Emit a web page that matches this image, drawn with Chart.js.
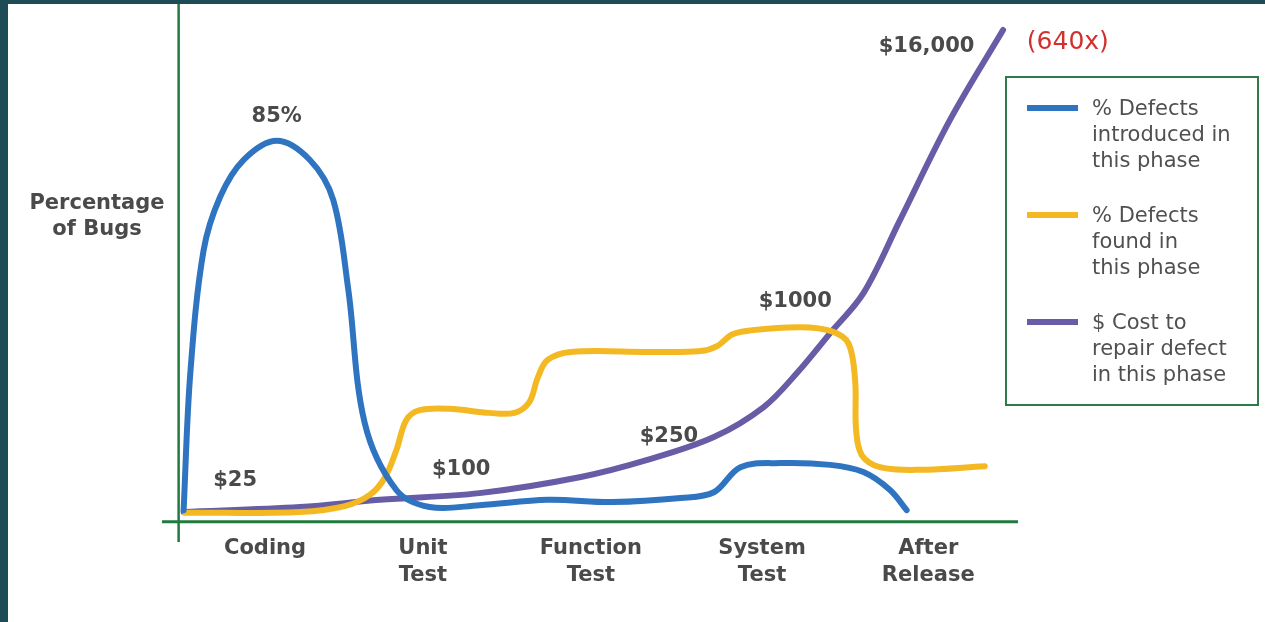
<!DOCTYPE html>
<html>
<head>
<meta charset="utf-8">
<title>Cost of defects by phase</title>
<script src="https://cdn.jsdelivr.net/npm/chart.js@4.4.1/dist/chart.umd.min.js"></script>
<style>
  html, body { margin: 0; padding: 0; width: 1265px; height: 622px; overflow: hidden; background: #1d4b56; }
  #panel { position: absolute; left: 8px; top: 4px; width: 1257px; height: 618px; background: #fff; }
  #chart { position: absolute; left: 0; top: 0; }
  #legend {
    position: absolute; left: 1005px; top: 76px; width: 254px; height: 330px;
    box-sizing: border-box; border: 2px solid #2f7a4a; padding: 17px 0 0 20px;
    font-family: "DejaVu Sans", sans-serif; font-size: 21px; color: #505050;
  }
  .item { display: flex; margin-bottom: 29px; }
  .swatch { width: 51px; height: 6px; margin: 10px 14px 0 0; flex: none; }
  .text { line-height: 26px; white-space: nowrap; }
</style>
</head>
<body>
<div id="panel"></div>
<canvas id="chart" width="1265" height="622"></canvas>
<div id="legend"></div>
<script>
// phases on the x axis, each label split into lines, and where each sits on the x scale
const categories = [['Coding'], ['Unit', 'Test'], ['Function', 'Test'], ['System', 'Test'], ['After', 'Release']];
const categoryAt = [0, 0.95, 1.96, 2.99, 3.99];

// % defects introduced in this phase
const introducedX = [-0.49, -0.45, -0.37, -0.27, -0.13, 0.07, 0.27, 0.41, 0.50, 0.60, 0.79, 0.99, 1.29, 1.70, 2.09, 2.50, 2.70, 2.86, 3.10, 3.40, 3.60, 3.76, 3.86];
const introducedY = [2.6, 33, 60.5, 72.5, 80.7, 85, 80.7, 71.8, 52, 22, 7.1, 3.3, 3.7, 4.9, 4.4, 5.3, 6.6, 12.2, 13.1, 12.7, 11.1, 7.1, 2.6];

// % defects found in this phase
const foundX = [-0.48, 0.21, 0.48, 0.63, 0.72, 0.79, 0.85, 0.93, 1.11, 1.35, 1.50, 1.59, 1.64, 1.70, 1.84, 2.32, 2.62, 2.72, 2.81, 2.92, 3.22, 3.41, 3.51, 3.55, 3.556, 3.59, 3.70, 3.94, 4.33];
const foundY = [2.0, 2.2, 3.5, 6.0, 9.8, 16.0, 22.7, 24.9, 25.2, 24.3, 24.3, 26.7, 32.1, 36.1, 37.9, 37.9, 38.1, 39.2, 41.8, 42.7, 43.4, 42.5, 39.8, 31.6, 20.5, 14.9, 12.2, 11.6, 12.4];

// $ cost to repair (relative height, not to scale)
const costX = [-0.49, 0.21, 0.69, 1.29, 1.90, 2.30, 2.70, 3.00, 3.20, 3.40, 3.60, 3.82, 4.12, 4.44];
const costY = [2.2, 3.3, 4.9, 6.4, 10.0, 13.8, 18.9, 25.6, 33.2, 42.1, 51.0, 67.3, 89.6, 109.7];

const seriesLabels = [
  ['% Defects', 'introduced in', 'this phase'],
  ['% Defects', 'found in', 'this phase'],
  ['$ Cost to', 'repair defect', 'in this phase']
];
const seriesColors = ['#2e74c0', '#f4b823', '#675ca6'];

// callouts: text, x, y (data units)
const noteText = ['85%', '$25', '$100', '$250', '$1000', '$16,000'];
const noteX = [0.07, -0.18, 1.18, 2.43, 3.19, 3.98];
const noteY = [90.3, 9.3, 11.6, 19.1, 49.2, 106.1];

const axisColor = '#237a3e';
const textColor = '#4a4a4a';
const yAxisAt = -0.52;

function pts(xs, ys) {
  return xs.map((v, i) => ({ x: v, y: ys[i] }));
}

const overlay = {
  id: 'overlay',
  beforeDatasetsDraw(chart) {
    const { ctx, chartArea, scales: { x, y } } = chart;
    const ax = x.getPixelForValue(yAxisAt);
    const ay = y.getPixelForValue(0);
    ctx.save();
    ctx.strokeStyle = axisColor;
    ctx.lineWidth = 2.5;
    ctx.beginPath();
    ctx.moveTo(ax, chartArea.top);
    ctx.lineTo(ax, chartArea.bottom);
    ctx.stroke();
    ctx.lineWidth = 3;
    ctx.beginPath();
    ctx.moveTo(chartArea.left, ay);
    ctx.lineTo(chartArea.right, ay);
    ctx.stroke();
    ctx.restore();
  },
  afterDraw(chart) {
    const { ctx, chartArea, scales: { x, y } } = chart;
    const ay = y.getPixelForValue(0);
    ctx.save();
    ctx.textAlign = 'center';
    ctx.textBaseline = 'middle';
    ctx.fillStyle = textColor;
    ctx.font = 'bold 21px "DejaVu Sans", sans-serif';

    // phase names under the axis
    categories.forEach((lines, i) => {
      lines.forEach((t, j) => ctx.fillText(t, x.getPixelForValue(categoryAt[i]), ay + 27 + j * 27));
    });

    // y axis title
    ctx.fillText('Percentage', chartArea.left - 65, 204);
    ctx.fillText('of Bugs', chartArea.left - 65, 230);

    // callouts
    noteText.forEach((t, i) => {
      ctx.fillText(t, x.getPixelForValue(noteX[i]), y.getPixelForValue(noteY[i]));
    });

    ctx.fillStyle = '#d1302c';
    ctx.font = '25px "DejaVu Sans", sans-serif';
    ctx.fillText('(640x)', x.getPixelForValue(4.83), y.getPixelForValue(107));
    ctx.restore();
  }
};

const datasets = [pts(introducedX, introducedY), pts(foundX, foundY), pts(costX, costY)].map((d, i) => ({
  label: seriesLabels[i].join(' '),
  data: d,
  borderColor: seriesColors[i],
  borderWidth: 6,
  pointRadius: 0,
  fill: false,
  tension: 0.35,
  borderCapStyle: 'round',
  borderJoinStyle: 'round'
}));

new Chart(document.getElementById('chart'), {
  type: 'line',
  data: { datasets: datasets },
  options: {
    responsive: false,
    devicePixelRatio: 1,
    animation: false,
    layout: { padding: { left: 162, right: 247, top: 4, bottom: 80 } },
    plugins: { legend: { display: false }, tooltip: { enabled: false } },
    scales: {
      x: { type: 'linear', display: false, min: -0.62, max: 4.53 },
      y: { type: 'linear', display: false, min: -4.5, max: 115.5 }
    }
  },
  plugins: [overlay]
});

// html legend, text wrapped like the original
const legend = document.getElementById('legend');
seriesLabels.forEach((lines, i) => {
  const item = document.createElement('div');
  item.className = 'item';
  item.innerHTML = '<div class="swatch" style="background:' + seriesColors[i] + '"></div>' +
    '<div class="text">' + lines.join('<br>') + '</div>';
  legend.appendChild(item);
});
</script>
</body>
</html>
